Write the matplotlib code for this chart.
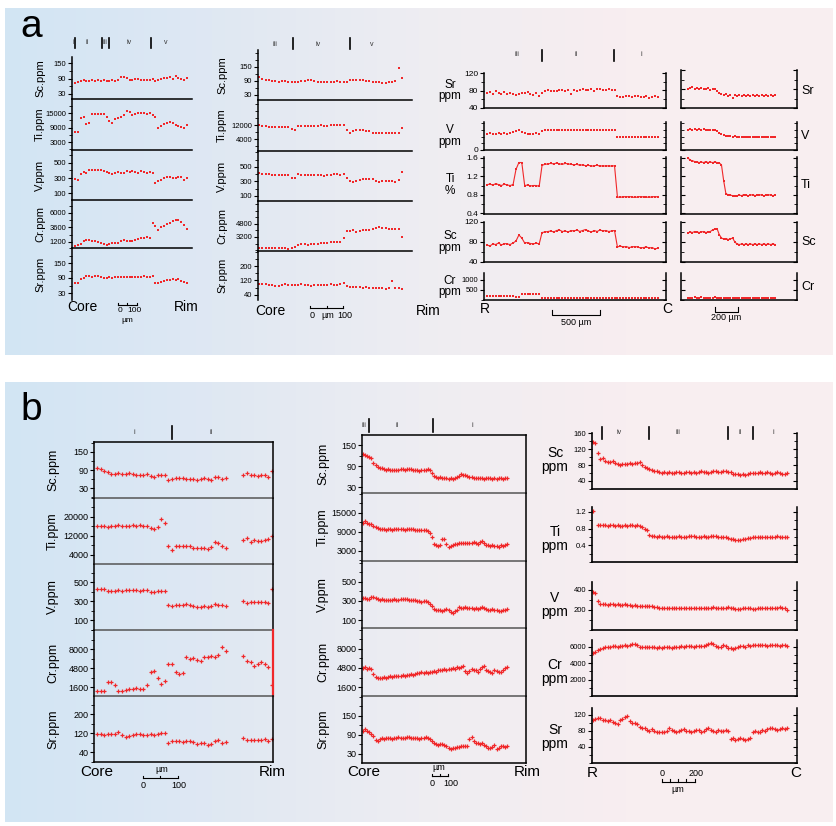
import numpy as np
import matplotlib
matplotlib.use("Agg")
import matplotlib.pyplot as plt
from matplotlib.lines import Line2D
from matplotlib.colors import LinearSegmentedColormap
from matplotlib.ticker import MultipleLocator

nan = float("nan")
W, H = 837, 826
RED = "#f0282a"
plt.rcParams["font.family"] = ["Liberation Sans", "DejaVu Sans"]

# ---------------- data: panel a, left traverse (core -> rim) ----------------
AL_SC = [72, 78, 80, 84, 82, 80, 83, 82, 84, 82, 85, 80, 82, 84, 80, 86, 98, 96, 94, 85,
         86, 90, 88, 84, 86, 85, 86, 88, 82, 86, 90, 94, 92, 96, 90, 100, 94, 90, 86, 92]
AL_TI = [7000, 7200, 13000, 13500, 10500, 10800, 14500, 14800, 14800, 14600,
         14800, 13500, 11500, 10800, 12500, 13000, 13200, 14000, 16000, 15500,
         14000, 14500, 15000, 15000, 15200, 14800, 15000, 14200, 13500, 9000,
         9500, 10500, 11000, 11200, 10800, 10000, 9500, 9200, 9000, 10000]
AL_V = [290, 280, 350, 380, 370, 400, 410, 400, 410, 400, 390, 380, 360, 350, 370, 380, 360, 370, 390, 380,
        390, 380, 370, 390, 380, 370, 380, 360, 240, 260, 280, 300, 320, 310, 300, 300, 310, 320, 270, 300]
AL_CR = [600, 700, 900, 1300, 1500, 1500, 1400, 1300, 1200, 1000, 800, 700, 900, 1000, 1000, 1100, 1400, 1500, 1300, 1400,
         1400, 1500, 1700, 1900, 1800, 2000, 1900, 4300, 3800, 3200, 3600, 3900, 4200, 4400, 4700, 4900, 4800, 4500, 4000, 3400]
AL_SR = [72, 70, 88, 92, 98, 100, 96, 100, 98, 96, 92, 90, 94, 92, 95, 94, 93, 96, 95, 94,
         95, 96, 94, 95, 98, 96, 95, 98, 72, 70, 76, 80, 84, 82, 86, 84, 88, 78, 74, 72]

# ---------------- data: panel a, middle traverse ----------------
AM_SC = [108, 100, 95, 92, 90, 88, 86, 88, 90, 86, 84, 86, 85, 88, 90, 92, 94, 88, 86, 86, 85, 87, 86,
         87, 88, 86, 87, 86, 92, 94, 93, 95, 92, 90, 88, 86, 84, 86, 80, 82, 84, 86, 88, 145, 102]
AM_TI = [12000, 11500, 11200, 11000, 11000, 10800, 11000, 11000, 10800, 10600, 9500, 9300, 11400, 11600, 11500,
         11600, 11400, 11500, 11600, 11800, 11600, 11700, 11800, 11900, 12000, 11800, 12000, 9000, 7500, 8500,
         9000, 9200, 9000, 8800, 8600, 7400, 7200, 7200, 7400, 7300, 7200, 7400, 7600, 7500, 10500]
AM_V = [420, 400, 405, 400, 390, 385, 390, 390, 385, 390, 345, 350, 400, 395, 390, 395, 390, 385, 395, 390, 380, 390,
        395, 400, 400, 395, 400, 350, 300, 290, 310, 320, 330, 335, 340, 330, 310, 290, 300, 305, 300, 300, 295, 320, 430]
AM_CR = [1900, 1850, 1900, 1900, 1850, 1900, 1900, 1900, 1850, 1800, 1900, 2000, 2200, 2300, 2300, 2250, 2300, 2400,
         2400, 2450, 2500, 2500, 2550, 2600, 2600, 2550, 3100, 3900, 3950, 4000, 3850, 3900, 4000, 4100, 4050, 4200,
         4300, 4400, 4300, 4250, 4200, 4150, 4200, 4150, 3200]
AM_SR = [100, 98, 102, 96, 94, 92, 90, 96, 98, 94, 96, 94, 96, 98, 96, 94, 92, 96, 95, 96, 94, 96, 98, 95, 96,
         100, 104, 90, 86, 84, 82, 86, 80, 82, 80, 78, 80, 76, 78, 74, 76, 116, 78, 76, 74]

# ---------------- data: panel a, right traverses (rim -> core) ----------------
AR_SR = [74, 76, 72, 78, 75, 73, 77, 71, 74, 72, 70, 73, 75, 74, 76, 72, 70, 74, 68, 75,
         80, 81, 79, 80, 78, 81, 82, 80, 81, 72, 82, 80, 82, 83, 81, 82, 84, 80, 83, 84, 82, 81, 83, 82, 82,
         67, 65, 66, 68, 67, 66, 68, 67, 66, 65, 67, 64, 66, 67, 66]
AR_V = [240, 250, 235, 245, 250, 240, 255, 245, 250, 265, 290, 305, 270, 250, 245, 240, 235, 255, 245, 280,
        300, 305, 300, 302, 298, 300, 303, 300, 301, 300, 302, 300, 298, 301, 303, 300, 302, 301, 300, 299, 302, 305, 300, 303, 300,
        200, 198, 200, 196, 200, 198, 195, 200, 198, 197, 199, 196, 200, 198, 197]
AR_TI = [1.02, 1.03, 1.01, 1.04, 1.02, 1.00, 1.03, 1.01, 1.00, 1.02, 1.35, 1.50, 1.50, 1.00, 1.01, 0.99, 1.00, 1.00, 0.98, 1.44,
         1.46, 1.47, 1.48, 1.47, 1.49, 1.47, 1.46, 1.48, 1.47, 1.46, 1.45, 1.46, 1.44, 1.45, 1.43, 1.44, 1.42, 1.43, 1.44, 1.42,
         1.43, 1.42, 1.43, 1.42, 1.43,
         0.75, 0.74, 0.76, 0.75, 0.76, 0.75, 0.74, 0.75, 0.76, 0.75, 0.75, 0.74, 0.76, 0.75, 0.76]
AR_SC = [74, 72, 76, 75, 78, 74, 77, 76, 75, 78, 82, 94, 88, 78, 79, 77, 76, 78, 76, 99,
         100, 101, 102, 100, 103, 104, 101, 102, 100, 103, 102, 104, 101, 103, 105, 102, 100, 103, 101, 104, 102, 103, 101, 102, 103,
         70, 72, 70, 71, 69, 70, 71, 70, 68, 69, 70, 68, 69, 66, 68]
AR_CR = [200, 210, 205, 210, 208, 212, 210, 215, 210, 212, 160, 150, 280, 290, 285, 290, 280, 285, 290, 120,
         120, 115, 125, 120, 115, 122, 120, 118, 125, 120, 115, 120, 122, 118, 120, 125, 120, 115, 122, 120, 118, 120, 125, 120, 115,
         120, 122, 118, 125, 120, 115, 120, 122, 118, 120, 125, 120, 115, 122, 120]

AS_SR = [80, 82, 84, 81, 83, 80, 82, 81, 80, 82, 78, 80, 79, 76, 72, 70, 68, 70, 66, 67,
         62, 68, 66, 67, 66, 67, 66, 67, 66, 67, 66, 67, 66, 67, 66, 67, 66, 67, 66, 67]
AS_V = [305, 308, 306, 310, 305, 308, 306, 310, 307, 305, 300, 302, 295, 280, 260, 240, 225, 215, 210, 205,
        200, 205, 200, 202, 200, 201, 200, 202, 200, 201, 200, 202, 200, 201, 200, 202, 200, 201, 200, 202]
AS_TI = [1.60, 1.55, 1.54, 1.52, 1.51, 1.50, 1.51, 1.50, 1.52, 1.50, 1.51, 1.50, 1.51, 1.50, 1.49, 1.45, 1.10, 0.82, 0.80, 0.79,
         0.78, 0.77, 0.78, 0.79, 0.78, 0.80, 0.79, 0.78, 0.79, 0.80, 0.78, 0.79, 0.80, 0.79, 0.78, 0.79, 0.80, 0.79, 0.78, 0.79]
AS_SC = [98, 100, 99, 101, 100, 99, 100, 101, 99, 100, 101, 104, 106, 107, 95, 88, 86, 87, 85, 86,
         88, 80, 76, 75, 76, 75, 76, 75, 76, 75, 76, 75, 76, 75, 76, 75, 76, 75, 76, 75]
AS_CR = [120, 125, 122, 130, 124, 120, 128, 122, 125, 120, 124, 122, 126, 120, 122, 125, 120, 118, 122, 120,
         116, 120, 118, 122, 120, 116, 118, 120, 122, 118, 120, 116, 118, 120, 122, 120, 118, 116, 120, 118]

# ---------------- data: panel b, left traverse ----------------
BL_SC = [95, 93, 88, 83, 78, 77, 80, 78, 77, 79, 76, 74, 73, 74, 76, 70, 68, 72, 75, 74,
         58, 60, 62, 63, 65, 60, 61, 60, 57, 60, 62, 59, 58, 66, 68, 60, 62,
         nan, nan, nan, nan,
         72, 80, 74, 73, 70, 72, 74, 68, 87]
BL_TI = [16000, 16000, 16100, 15900, 16200, 16300, 16800, 16400, 16300, 16200,
         16500, 16300, 16600, 16200, 16300, 15400, 15000, 15800, 19000, 17600,
         7800, 6300, 7600, 7700, 7800, 7700, 7600, 7000, 6800, 6900, 7000, 6700, 7200, 9300, 9200, 7700, 6800,
         nan, nan, nan, nan,
         10300, 11300, 9500, 10200, 10000, 10100, 10500, 10600, 12000]
BL_V = [430, 432, 428, 410, 408, 405, 412, 410, 412, 418, 420, 415, 405, 412, 415, 400, 398, 402, 405, 408,
        255, 250, 258, 262, 255, 268, 262, 250, 238, 240, 245, 242, 248, 265, 262, 258, 250,
        nan, nan, nan, nan,
        300, 280, 290, 295, 285, 292, 290, 280, 430]
BL_CR = [900, 950, 1000, 2400, 2500, 1900, 1000, 900, 1100, 1200, 1300, 1400, 1300, 1200, 2000, 4200, 4300, 3100, 2100, 2600,
         5500, 5400, 4100, 3800, 4000, 6600, 6300, 6500, 6100, 6000, 6700, 6700, 6800, 6700, 7000, 8400, 7600,
         nan, nan, nan, nan,
         6900, 5900, 5800, 5200, 5400, 5800, 5500, 5000, 1900]
BL_SR = [116, 114, 113, 115, 114, 115, 124, 110, 104, 106, 112, 114, 115, 113, 112, 114, 112, 116, 120, 120,
         76, 86, 87, 86, 84, 86, 85, 84, 74, 76, 78, 70, 72, 88, 90, 80, 82,
         nan, nan, nan, nan,
         100, 92, 90, 91, 90, 92, 93, 88, 94]

# ---------------- data: panel b, middle traverse ----------------
BM_SC = [125, 122, 118, 115, 113, 100,
         92, 88, 85, 84, 82, 80, 82, 80, 78, 80, 79, 80, 81, 82, 80, 82, 83, 81, 80, 79, 78, 77, 78, 79, 80, 82, 80,
         70, 62, 58, 56, 58, 57, 55, 56, 54, 55, 53, 56, 58, 63, 66, 65, 64, 62,
         60, 58, 56, 55, 57, 56, 55, 54, 56, 57, 55, 54, 56, 52, 55, 56, 53, 55, 57]
BM_TI = [11800, 12400, 11700, 11500, 11600, 11000,
         10500, 10200, 10000, 9800, 9900, 9700, 9800, 9900, 9600, 9800, 9900, 10000, 9800, 9900, 9700, 9800, 9900,
         10000, 9800, 9700, 9600, 9500, 9700, 9600, 9500, 9300, 8800,
         7500, 5200, 4800, 4600, 5000, 6700, 6800, 5200, 4400, 4600, 5000, 5300, 5200, 5500, 5600, 5400, 5500, 5600,
         5400, 5500, 5800, 5600, 5300, 5700, 6000, 5500, 5000, 4800, 4700, 4800, 4500, 4700, 4400, 4800, 4600, 5000, 5200]
BM_V = [330, 335, 320, 318, 340, 345,
        330, 320, 315, 318, 312, 310, 305, 310, 315, 318, 312, 310, 320, 325, 320, 318, 312, 310, 305, 310, 300,
        295, 290, 300, 295, 285, 270,
        250, 215, 205, 210, 200, 198, 210, 220, 200, 185, 175, 190, 200, 235, 230, 228, 232, 225,
        230, 225, 220, 222, 218, 225, 232, 226, 215, 210, 205, 215, 200, 205, 198, 195, 202, 208, 215]
BM_CR = [4800, 4900, 4700, 4800, 4600, 3800,
         3300, 3200, 3100, 3200, 3300, 3200, 3300, 3400, 3300, 3400, 3500, 3400, 3500, 3600, 3500, 3600, 3700,
         3800, 3700, 3800, 3900, 4000, 4100, 4000, 4100, 4000, 4100,
         4200, 4300, 4200, 4400, 4500, 4400, 4600, 4500, 4700, 4600, 4800, 4700, 4900, 4800, 5000, 5200, 4300, 4000,
         4300, 4600, 4500, 4400, 4200, 4600, 4900, 5100, 4500, 4300, 4200, 4000, 4400, 4300, 4100, 4200, 4500, 4800, 5000]
BM_SR = [104, 108, 102, 98, 92, 88,
         75, 72, 78, 80, 77, 79, 80, 82, 78, 80, 81, 83, 80, 79, 82, 84, 83, 80, 81, 82, 79, 78, 80, 82, 84, 80, 76,
         70, 65, 60, 58, 60, 62, 58, 55, 50, 46, 48, 50, 52, 52, 54, 55, 56, 54,
         78, 84, 72, 66, 64, 62, 65, 58, 55, 50, 48, 52, 58, 45, 50, 55, 56, 52, 54]

# ---------------- data: panel b, right traverse (rim -> core) ----------------
BR_SC = [138, 136, 110, 95, 98, 90, 88, 87, 90, 84, 82, 80, 82, 83, 82, 84, 83, 85, 84, 88,
         80, 76, 72, 70, 68, 66,
         64, 62, 60, 63, 61, 62, 60, 61, 63, 62, 61, 60, 62, 63, 61, 62, 60, 62, 64, 63, 62, 61, 63, 65,
         64, 63, 62, 64, 65, 63, 62, 58, 57, 58, 56, 57, 55, 58,
         60, 61, 60, 61, 62, 60, 61, 62, 60, 58, 61, 62, 60, 57, 58, 60]
BR_TI = [1.22, nan, 0.90, 0.89, 0.88, 0.89, 0.87, 0.88, 0.89, 0.87, 0.88, 0.86, 0.87, 0.88, 0.87, 0.88, 0.89, 0.87,
         0.88, 0.86, 0.84, 0.80, 0.77, 0.65,
         0.63, 0.62, 0.61, 0.62, 0.60, 0.61, 0.62, 0.60, 0.61, 0.60, 0.61, 0.62, 0.61, 0.60, 0.61, 0.62, 0.63, 0.62,
         0.61, 0.60, 0.61, 0.62, 0.60, 0.61, 0.62, 0.63, 0.62, 0.61, 0.60, 0.61, 0.59,
         0.58, 0.56, 0.55, 0.54, 0.53, 0.54, 0.55, 0.56, 0.57,
         0.58, 0.59, 0.60, 0.59, 0.60, 0.61, 0.60, 0.59, 0.60, 0.61, 0.60, 0.62, 0.61, 0.60, 0.61, 0.60]
BR_V = [380, 370, 290, 265, 260, 262, 255, 258, 256, 254, 258, 252, 255, 256, 250, 255,
        245, 248, 240, 244, 242, 238, 240, 236, 238, 232, 235,
        225, 218, 220, 222, 224, 220, 218, 222, 224, 220, 223, 225, 222, 220, 218, 221, 224, 220, 222, 219,
        220, 224, 226, 222, 220, 218, 221, 224, 228, 222, 218, 215, 212, 214, 216, 220, 222, 219, 215, 212,
        218, 222, 224, 221, 219, 222, 224, 220, 222, 226, 225, 218, 200]
BR_CR = [5200, 5400, 5600, 5700, 5800, 5900, 6000, 6000, 6050, 6100, 6000, 6100, 6050, 6150, 6100, 6200,
         6300, 6350, 6250, 6000, 5950, 6000, 5950, 5900, 5950, 5900, 5850, 5900, 5850, 5900, 5950, 5900,
         5850, 5900, 5950, 6000, 6050, 6000, 6050, 6100, 6050, 6000, 6050, 6100, 6050, 6100, 6200, 6350,
         6400, 6300, 6100, 5950, 6000, 6150, 6050, 5850, 5800, 5750, 5850, 5900, 6050, 6100, 5950, 6200,
         6100, 6250, 6150, 6200, 6250, 6150, 6200, 6100, 6150, 6200, 6250, 6150, 6100, 6200, 6150, 6100]
BR_SR = [108, 110, 112, 111, 108, 106, 104, 106, 102, 100,
         96, 108, 110, 114, 116, 104, 100, 100, 96, 90,
         88, 86, 82, 80, 84, 79, 78, 76, 78, 77,
         80, 88, 82, 80, 78, 80, 82, 84, 80, 79,
         78, 80, 82, 81, 78, 80, 84, 86, 82, 80,
         78, 82, 80, 79, 81, 80, 60, 62, 58, 60,
         62, 59, 58, 60, 62, 78, 80, 76, 78, 82,
         80, 84, 88, 86, 84, 82, 84, 86, 84, 86]

STACK_NAMES = ["Sc.ppm", "Ti.ppm", "V.ppm", "Cr.ppm", "Sr.ppm"]

fig = plt.figure(figsize=(W / 100, H / 100), dpi=100, facecolor="white")


def box_axes(x0, y0, x1, y1, **kw):
    return fig.add_axes([x0 / W, 1 - y1 / H, (x1 - x0) / W, (y1 - y0) / H], **kw)


def ftext(x, y, s, **kw):
    fig.text(x / W, 1 - y / H, s, **kw)


def fline(xs, ys, **kw):
    kw.setdefault("color", "black")
    kw.setdefault("lw", 0.8)
    fig.add_artist(Line2D([x / W for x in xs], [1 - y / H for y in ys], **kw))


def fmt(v):
    return f"{v:g}"


# background gradient boxes
bg_cmap = LinearSegmentedColormap.from_list("bg", ["#d2e5f3", "#dfe8f3", "#eeedf2", "#f8eef0", "#f9eef0"])
for y0, y1 in [(8, 355), (382, 822)]:
    bg = box_axes(5, y0, 833, y1, zorder=-10)
    bg.imshow(np.linspace(0, 1, 256)[None, :], aspect="auto", cmap=bg_cmap, extent=(0, 1, 0, 1))
    bg.axis("off")

ftext(31, 27, "a", fontsize=28, ha="center", va="center")
ftext(31, 410, "b", fontsize=28, ha="center", va="center")

A_PT = dict(ls="none", marker="s", ms=1.8, mew=0, color=RED)
A_LN = dict(ls="-", lw=0.8, marker="s", ms=1.5, mew=0, color=RED)
B_PT = dict(ls="none", marker="+", ms=3.2, mew=0.9, color=RED)


def profile_axes(rect, vals, ylim, d0, d1, style):
    x0, y0, x1, y1 = rect
    ax = box_axes(x0, y0, x1, y1)
    ax.set_facecolor("none")
    n = len(vals)
    per = (d1 - d0) / (n - 1)
    ax.set_xlim(-(d0 - x0) / per, (x1 - d0) / per)
    ax.set_ylim(*ylim)
    ax.plot(np.arange(n), vals, **style)
    ax.set_xticks([])
    return ax


def style_y(ax, major, minor, size=6, direction="out", labels=True):
    ax.set_yticks(major, [fmt(v) for v in major])
    if minor:
        ax.yaxis.set_minor_locator(MultipleLocator(minor))
    ax.tick_params(axis="y", which="major", length=3, width=0.8, direction=direction,
                   labelsize=size, pad=1, labelleft=labels)
    ax.tick_params(axis="y", which="minor", length=2, width=0.6, direction=direction)


def right_ticks(ax, major, minor):
    ax.spines["right"].set_visible(False)
    sec = ax.secondary_yaxis("right")
    sec.set_yticks(major)
    if minor:
        sec.yaxis.set_minor_locator(MultipleLocator(minor))
    sec.tick_params(axis="y", which="major", direction="in", length=3, width=0.8, labelright=False)
    sec.tick_params(axis="y", which="minor", direction="in", length=2, width=0.6)
    sec.spines["right"].set_linewidth(1.1)
    return sec


def stacked(x0, x1, edges, d0, d1, series, ylims, majors, minors, label_x, label_fs, style, framed, tick_fs):
    axes = []
    for i, vals in enumerate(series):
        ax = profile_axes((x0, edges[i], x1, edges[i + 1]), vals, ylims[i], d0, d1, style)
        style_y(ax, majors[i], minors[i], tick_fs)
        for s in ("top", "right"):
            ax.spines[s].set_visible(False)
        for s in ax.spines.values():
            s.set_linewidth(1.1)
        last = i == len(series) - 1
        if framed:
            ax.spines["right"].set_visible(True)
            if i == 0:
                ax.spines["top"].set_visible(True)
            if not last:
                ax.spines["bottom"].set_color("#555555")
        elif last:
            ax.spines["bottom"].set_visible(False)
        ftext(label_x, (edges[i] + edges[i + 1]) / 2, STACK_NAMES[i], rotation=90,
              ha="center", va="center", fontsize=label_fs)
        axes.append(ax)
    return axes


def zone_marks(y, texts, bars, y0, y1):
    for x, s in texts:
        ftext(x, y, s, fontsize=5, ha="center", va="center", color="#333333")
    for x in bars:
        fline([x, x], [y0, y1], lw=1.2)


# ---------------- panel a: left ----------------
stacked(72, 192, [57, 99, 150, 200, 248, 300], 75, 187,
        [AL_SC, AL_TI, AL_V, AL_CR, AL_SR],
        [(10, 175), (-300, 20800), (10, 670), (200, 8150), (2, 210)],
        [[30, 90, 150], [3000, 9000, 15000], [100, 300, 500], [1200, 3600, 6000], [30, 90, 150]],
        [30, 3000, 100, 1200, 30], 40, 8, A_PT, False, 5.5)
ftext(82, 307, "Core", fontsize=10, ha="center", va="center")
ftext(186, 307, "Rim", fontsize=10, ha="center", va="center")
fline([118, 137], [305, 305])
for x in (118, 127, 137):
    fline([x, x], [303, 305])
ftext(120, 311, "0", fontsize=6, ha="center", va="center")
ftext(134, 311, "100", fontsize=6, ha="center", va="center")
ftext(127, 320, "µm", fontsize=6, ha="center", va="center")
zone_marks(43, [(73, "i"), (87, "ii"), (105, "iii"), (129, "iv"), (166, "v")], [75, 102, 109, 151], 38, 48)

# ---------------- panel a: middle ----------------
stacked(258, 412, [50, 100, 151, 201, 251, 300], 259, 402,
        [AM_SC, AM_TI, AM_V, AM_CR, AM_SR],
        [(8, 222), (-2850, 26300), (30, 720), (1500, 7560), (12, 283)],
        [[30, 90, 150], [4000, 12000], [100, 300, 500], [3200, 4800], [40, 120, 200]],
        [30, 4000, 100, 800, 40], 222, 8, A_PT, False, 5.5)
ftext(270, 311, "Core", fontsize=10, ha="center", va="center")
ftext(428, 311, "Rim", fontsize=10, ha="center", va="center")
fline([310, 343], [308, 308])
for x in (310, 327, 343):
    fline([x, x], [306, 308])
ftext(312, 316, "0", fontsize=6.5, ha="center", va="center")
ftext(328, 316, "µm", fontsize=6.5, ha="center", va="center")
ftext(345, 316, "100", fontsize=6.5, ha="center", va="center")
zone_marks(44, [(275, "iii"), (318, "iv"), (372, "v")], [293, 350], 38, 49)

# ---------------- panel a: right, long and short traverses ----------------
AR_ROWS = [("Sr\nppm", "Sr", AR_SR, AS_SR, (73, 108), (40, 120), [40, 80, 120], 20, A_PT),
           ("V\nppm", "V", AR_V, AS_V, (122, 150), (0, 420), [0], 100, A_PT),
           ("Ti\n%", "Ti", AR_TI, AS_TI, (157, 214), (0.38, 1.62), [0.4, 0.8, 1.2, 1.6], 0.2, A_LN),
           ("Sc\nppm", "Sc", AR_SC, AS_SC, (222, 262), (40, 120), [40, 80, 120], 20, A_LN),
           ("Cr\nppm", "Cr", AR_CR, AS_CR, (273, 300), (0, 1350), [500, 1000], 500, A_PT)]
for lab, short, vals, svals, (y0, y1), ylim, major, minor, st in AR_ROWS:
    ax = profile_axes((484, y0, 666, y1), vals, ylim, 487, 658, st)
    style_y(ax, major, minor, 5.5 if short == "Cr" else 6)
    ax.spines["top"].set_visible(False)
    for s in ax.spines.values():
        s.set_linewidth(1.1)
    right_ticks(ax, major, minor)
    ftext(450, (y0 + y1) / 2, lab, fontsize=8.5, ha="center", va="center", linespacing=1.0)

    sy0 = y0 - 3 if short == "Sr" else y0
    ax2 = profile_axes((681, sy0, 797, y1), svals, ylim, 688, 775, st)
    style_y(ax2, major, minor, direction="in", labels=False)
    ax2.tick_params(axis="y", which="both", right=True)
    ax2.spines["top"].set_visible(False)
    for s in ax2.spines.values():
        s.set_linewidth(1.1)
    ftext(801, (y0 + y1) / 2, short, fontsize=9, ha="left", va="center")

ftext(485, 309, "R", fontsize=10, ha="center", va="center")
ftext(667, 309, "C", fontsize=10, ha="center", va="center")
fline([552, 552, 600, 600], [310, 315, 315, 310])
ftext(576, 322, "500 µm", fontsize=6.5, ha="center", va="center")
fline([715, 715, 738, 738], [307, 312, 312, 307])
ftext(726, 318, "200 µm", fontsize=6.5, ha="center", va="center")
zone_marks(55, [(517, "iii"), (576, "ii"), (641, "i")], [542, 614], 50, 61)

# ---------------- panel b: left ----------------
bl_axes = stacked(94, 273, [442, 498, 564, 630, 696, 762], 97, 272,
                  [BL_SC, BL_TI, BL_V, BL_CR, BL_SR],
                  [(-3, 183), (210, 28000), (-5, 690), (90, 11200), (-2, 276)],
                  [[30, 90, 150], [4000, 12000, 20000], [100, 300, 500], [1600, 4800, 8000], [40, 120, 200]],
                  [30, 4000, 100, 1600, 40], 53, 9, B_PT, True, 6.5)
bl_axes[3].spines["right"].set_color(RED)
bl_axes[3].spines["right"].set_linewidth(1.6)
ftext(97, 772, "Core", fontsize=11, ha="center", va="center")
ftext(272, 772, "Rim", fontsize=11, ha="center", va="center")
ftext(162, 769, "µm", fontsize=6.5, ha="center", va="center")
fline([143, 178], [778, 778])
for x in (143, 160, 178):
    fline([x, x], [776, 778])
ftext(143, 785, "0", fontsize=6.5, ha="center", va="center")
ftext(179, 785, "100", fontsize=6.5, ha="center", va="center")
zone_marks(432, [(134, "i"), (211, "ii")], [172], 426, 439)

# ---------------- panel b: middle ----------------
stacked(362, 526, [435, 493, 561, 628, 696, 763], 363, 507,
        [BM_SC, BM_TI, BM_V, BM_CR, BM_SR],
        [(13, 179), (-160, 21300), (16, 720), (88, 11530), (1.6, 213)],
        [[30, 90, 150], [3000, 9000, 15000], [100, 300, 500], [1600, 4800, 8000], [30, 90, 150]],
        [30, 3000, 100, 1600, 30], 323, 9, B_PT, True, 6.5)
ftext(364, 772, "Core", fontsize=11, ha="center", va="center")
ftext(527, 772, "Rim", fontsize=11, ha="center", va="center")
ftext(439, 767, "µm", fontsize=6.5, ha="center", va="center")
fline([432, 448], [776, 776])
for x in (432, 440, 448):
    fline([x, x], [774, 776])
ftext(432, 783, "0", fontsize=6.5, ha="center", va="center")
ftext(451, 783, "100", fontsize=6.5, ha="center", va="center")
zone_marks(425, [(364, "iii"), (397, "ii"), (472, "i")], [369, 433], 419, 432)

# ---------------- panel b: right ----------------
BR_ROWS = [("Sc\nppm", BR_SC, (433, 489), 460, (20, 160), [40, 80, 120, 160], 20),
           ("Ti\nppm", BR_TI, (507, 562), 539, (0, 1.32), [0.4, 0.8, 1.2], 0.2),
           ("V\nppm", BR_V, (582, 630), 605, (0, 480), [200, 400], 100),
           ("Cr\nppm", BR_CR, (640, 696), 672, (0, 6800), [2000, 4000, 6000], 1000),
           ("Sr\nppm", BR_SR, (708, 763), 737, (0, 137), [40, 80, 120], 20)]
for lab, vals, (y0, y1), ly, ylim, major, minor in BR_ROWS:
    ax = profile_axes((592, y0, 797, y1), vals, ylim, 593, 787, B_PT)
    style_y(ax, major, minor, 5.5)
    ax.spines["top"].set_visible(False)
    for s in ax.spines.values():
        s.set_linewidth(1.2)
    right_ticks(ax, major, minor)
    ftext(555, ly, lab, fontsize=10, ha="center", va="center", linespacing=1.0)

ftext(592, 773, "R", fontsize=11, ha="center", va="center")
ftext(796, 773, "C", fontsize=11, ha="center", va="center")
ftext(662, 774, "0", fontsize=6.5, ha="center", va="center")
ftext(696, 774, "200", fontsize=6.5, ha="center", va="center")
fline([662, 695], [782, 782])
for x in (662, 670, 678, 686, 695):
    fline([x, x], [779, 782])
ftext(678, 790, "µm", fontsize=6.5, ha="center", va="center")
zone_marks(433, [(619, "iv"), (678, "iii"), (740, "ii"), (773, "i")], [602, 649, 728, 753], 427, 439)

fig.savefig("out.png", dpi=100, facecolor="white")
